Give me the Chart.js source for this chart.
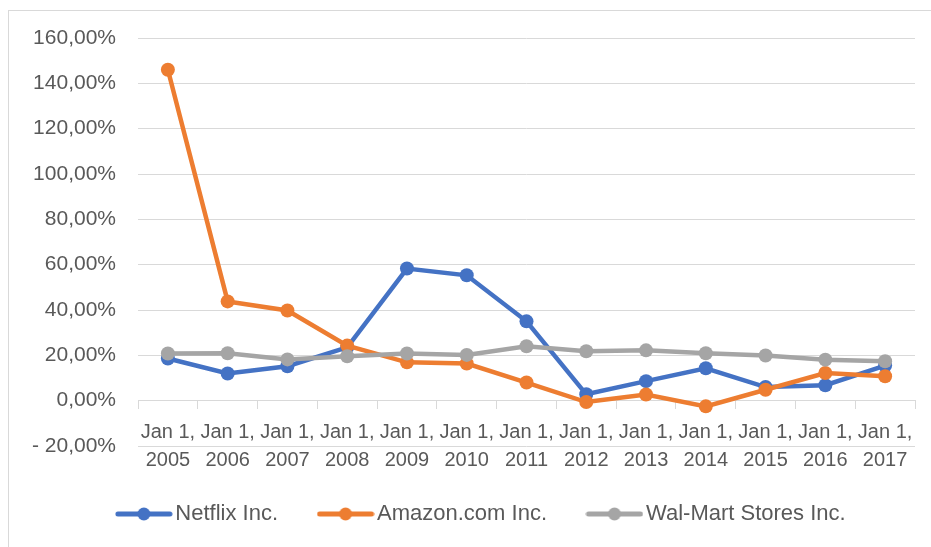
<!DOCTYPE html>
<html>
<head>
<meta charset="utf-8">
<script src="https://cdn.jsdelivr.net/npm/chart.js@4/dist/chart.umd.min.js"></script>
<style>
html,body{margin:0;padding:0;background:#fff;}
#wrap{width:931px;height:547px;position:relative;}
</style>
</head>
<body>
<div id="wrap"><canvas id="c" width="931" height="547"></canvas></div>
<script>
const years = ["2005","2006","2007","2008","2009","2010","2011","2012","2013","2014","2015","2016","2017"];
const netflix = [18.6, 12.0, 15.2, 23.5, 58.3, 55.3, 35.0, 2.8, 8.6, 14.3, 6.0, 6.8, 15.5];
const amazon = [146.0, 43.8, 39.8, 24.3, 16.9, 16.4, 8.0, -0.6, 2.7, -2.5, 4.8, 12.2, 10.8];
const walmart = [20.8, 20.9, 18.2, 19.6, 20.8, 20.2, 24.0, 21.8, 22.2, 20.9, 19.9, 18.1, 17.4];
const yTicks = [-20, 0, 20, 40, 60, 80, 100, 120, 140, 160];

const TEXT = '#595959';
const GRID = '#d9d9d9';
const FONT = "'Liberation Sans', Arial, sans-serif";

function legendIcon(color){
  const cv = document.createElement('canvas');
  cv.width = 58; cv.height = 16;
  const g = cv.getContext('2d');
  g.strokeStyle = color; g.lineWidth = 5; g.lineCap = 'round';
  g.beginPath(); g.moveTo(3,8); g.lineTo(55,8); g.stroke();
  g.fillStyle = color; g.beginPath(); g.arc(29,8,6.5,0,Math.PI*2); g.fill();
  return cv;
}

const borderPlugin = {
  id:'outerBorder',
  beforeDraw(chart){
    const ctx = chart.ctx;
    ctx.save();
    ctx.strokeStyle = '#d9d9d9'; ctx.lineWidth = 1;
    ctx.strokeRect(8.5, 10.5, 940, 560);
    ctx.restore();
  },
  afterLayout(chart){
    if (chart.legend){ chart.legend.left += 23; chart.legend.right += 23; }
  }
};

const series = [
  {label:'Netflix Inc.', data:netflix, color:'#4472C4', order:3},
  {label:'Amazon.com Inc.', data:amazon, color:'#ED7D31', order:2},
  {label:'Wal-Mart Stores Inc.', data:walmart, color:'#A5A5A5', order:1}
];

new Chart(document.getElementById('c'), {
  type:'line',
  data:{
    labels: years.map(y => ['Jan 1,', y]),
    datasets: series.map(s => ({
      label:s.label, data:s.data, borderColor:s.color, backgroundColor:s.color,
      borderWidth:4.5, pointRadius:7, pointHoverRadius:7, pointBorderWidth:0,
      pointStyle:'circle', order:s.order, tension:0
    }))
  },
  options:{
    responsive:false, animation:false,
    layout:{padding:{left:8, top:38, right:16, bottom:12}},
    plugins:{
      tooltip:{enabled:false},
      legend:{
        position:'bottom',
        labels:{
          usePointStyle:true, pointStyleWidth:41, boxHeight:16,
          color:TEXT, font:{family:FONT, size:22}, padding:47,
          generateLabels(chart){
            return chart.data.datasets.map((d,i)=>({
              text:d.label, fillStyle:d.borderColor, strokeStyle:d.borderColor,
              lineWidth:0, pointStyle:legendIcon(d.borderColor), datasetIndex:i, fontColor:TEXT
            }));
          }
        }
      }
    },
    scales:{
      x:{
        type:'category', position:{y:0}, offset:true,
        grid:{offset:true, drawOnChartArea:false, drawTicks:true, tickLength:8, color:GRID},
        border:{display:true, color:GRID, width:1},
        ticks:{color:TEXT, font:{family:FONT, size:20, lineHeight:1.4}, padding:10, maxRotation:0, autoSkip:false}
      },
      spacer:{
        type:'category', position:'bottom', labels:[''],
        grid:{display:false, drawTicks:false}, border:{display:false},
        ticks:{display:false},
        afterFit(scale){ scale.height = 10; }
      },
      y:{
        min:-20, max:160,
        afterBuildTicks(scale){ scale.ticks = yTicks.map(v=>({value:v})); },
        afterFit(scale){ scale.width = 130; },
        grid:{color:GRID, lineWidth:1, drawTicks:false},
        border:{display:false},
        ticks:{color:TEXT, font:{family:FONT, size:21}, padding:22,
          callback(v){
            const s = Math.abs(v).toFixed(2).replace('.', ',') + '%';
            return v < 0 ? '- ' + s : s;
          }
        }
      }
    }
  },
  plugins:[borderPlugin]
});
</script>
</body>
</html>
